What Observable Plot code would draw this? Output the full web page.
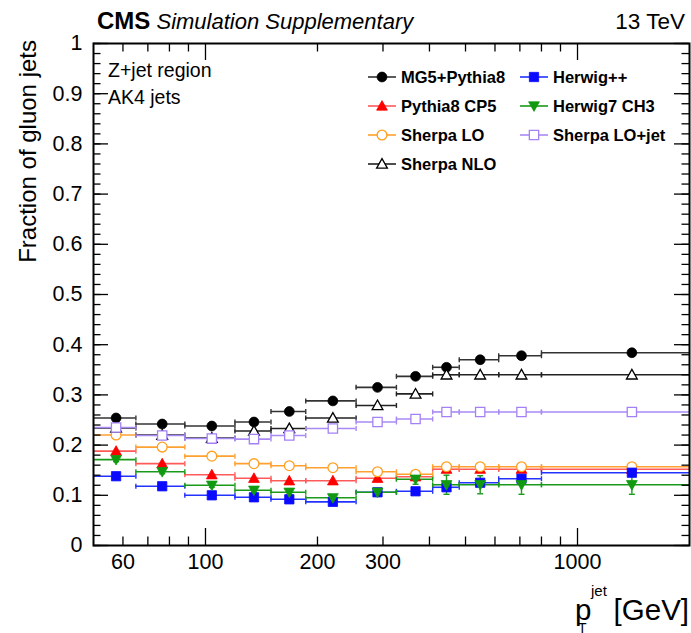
<!DOCTYPE html>
<html>
<head>
<meta charset="utf-8">
<script src="https://cdn.jsdelivr.net/npm/d3@7"></script>
<script src="https://cdn.jsdelivr.net/npm/@observablehq/plot@0.6"></script>
<style>
  body { margin: 0; background: #fff; }
  svg { display: block; }
</style>
</head>
<body>
<div id="chart"></div>
<script>
// Jet pT bin edges [GeV]; markers sit at the bin midpoints
const binEdges = [50, 65, 88, 120, 150, 186, 254, 326, 408, 481, 614, 800, 2000];

// Fraction of gluon jets per pT bin, Z+jet region, AK4 jets
const mg5Pythia8  = [0.254, 0.242, 0.238, 0.246, 0.267, 0.288, 0.315, 0.337, 0.355, 0.370, 0.378, 0.384];
const pythia8CP5  = [0.188, 0.163, 0.141, 0.134, 0.129, 0.129, 0.134, 0.137, 0.152, 0.152, 0.152, 0.152];
const sherpaLO    = [0.220, 0.196, 0.178, 0.163, 0.159, 0.155, 0.147, 0.142, 0.157, 0.157, 0.157, 0.157];
const sherpaNLO   = [0.234, 0.220, 0.214, 0.228, 0.233, 0.254, 0.279, 0.302, 0.340, 0.340, 0.340, 0.340];
const herwigPP    = [0.138, 0.118, 0.100, 0.096, 0.092, 0.087, 0.106, 0.108, 0.116, 0.125, 0.133, 0.145];
const herwig7CH3  = [0.171, 0.147, 0.120, 0.110, 0.106, 0.095, 0.106, 0.132, 0.121, 0.121, 0.121, 0.121];
const sherpaLOjet = [0.235, 0.219, 0.213, 0.212, 0.219, 0.233, 0.246, 0.252, 0.266, 0.266, 0.266, 0.266];

// Statistical uncertainty (only visible beyond the marker for Herwig7)
const herwig7Err  = [0.004, 0.004, 0.004, 0.004, 0.004, 0.005, 0.006, 0.010, 0.019, 0.018, 0.019, 0.019];

// Axis ticks
const xTickLabels = [60, 100, 200, 300, 1000];
const xMajorTicks = [100, 1000];
const xMinorTicks = [60, 70, 80, 90, 200, 300, 400, 500, 600, 700, 800, 900];
const yMajorTicks = d3.range(0, 11).map(i => i / 10);
const yMinorTicks = d3.range(0, 51).map(i => i / 50);

// Marker shapes
const triUp = {draw(ctx, size) {
  const r = Math.sqrt(size / Math.PI);
  ctx.moveTo(0, -1.1 * r); ctx.lineTo(1.1 * r, 0.85 * r); ctx.lineTo(-1.1 * r, 0.85 * r); ctx.closePath();
}};
const triDown = {draw(ctx, size) {
  const r = Math.sqrt(size / Math.PI);
  ctx.moveTo(0, 1.1 * r); ctx.lineTo(1.1 * r, -0.85 * r); ctx.lineTo(-1.1 * r, -0.85 * r); ctx.closePath();
}};
const square = {draw(ctx, size) {
  const r = Math.sqrt(size / Math.PI) * 0.95;
  ctx.rect(-r, -r, 2 * r, 2 * r);
}};
const circle = {draw(ctx, size) {
  const r = Math.sqrt(size / Math.PI);
  ctx.moveTo(r, 0); ctx.arc(0, 0, r, 0, 2 * Math.PI);
}};
const vCap = {draw(ctx) { ctx.moveTo(0, -2.5); ctx.lineTo(0, 2.5); }};
const hCap = {draw(ctx) { ctx.moveTo(-3, 0); ctx.lineTo(3, 0); }};

const series = [
  {name: "MG5+Pythia8",   values: mg5Pythia8,  color: "#000000", line: "#333333", symbol: circle,  open: false},
  {name: "Pythia8 CP5",   values: pythia8CP5,  color: "#ff0000", line: "#ff5a5a", symbol: triUp,   open: false},
  {name: "Sherpa LO",     values: sherpaLO,    color: "#ff9f1c", line: "#ffa030", symbol: circle,  open: true},
  {name: "Sherpa NLO",    values: sherpaNLO,   color: "#000000", line: "#222222", symbol: triUp,   open: true},
  {name: "Herwig++",      values: herwigPP,    color: "#0a0aff", line: "#2233ff", symbol: square,  open: false},
  {name: "Herwig7 CH3",   values: herwig7CH3,  color: "#119a11", line: "#1a9a1a", symbol: triDown, open: false, errors: herwig7Err},
  {name: "Sherpa LO+jet", values: sherpaLOjet, color: "#a380f5", line: "#a98af5", symbol: square,  open: true}
];

const rowsOf = s => s.values.map((v, i) => ({
  v, lo: binEdges[i], hi: binEdges[i + 1],
  x: (binEdges[i] + binEdges[i + 1]) / 2,
  err: s.errors ? s.errors[i] : 0
}));

const W = 691, H = 633;
const mL = 93, mR = 2, mT = 43, mB = 88;
const plotW = W - mL - mR, plotH = H - mT - mB;

const barMarks = series.flatMap(s => {
  const rows = rowsOf(s);
  const edges = rows.flatMap(r => [{x: r.lo, v: r.v}, {x: r.hi, v: r.v}]).filter(e => e.x > 50 && e.x < 2000);
  const errs = rows.filter(r => r.err > 0);
  return [
    Plot.ruleY(rows, {x1: "lo", x2: "hi", y: "v", stroke: s.line, strokeWidth: 1.6}),
    Plot.dot(edges, {x: "x", y: "v", symbol: vCap, stroke: s.line, strokeWidth: 1.4, r: 1}),
    Plot.ruleX(errs, {x: "x", y1: r => r.v - r.err, y2: r => r.v + r.err, stroke: s.line, strokeWidth: 1.4}),
    Plot.dot(errs.flatMap(r => [{x: r.x, v: r.v - r.err}, {x: r.x, v: r.v + r.err}]),
      {x: "x", y: "v", symbol: hCap, stroke: s.line, strokeWidth: 1.4, r: 1})
  ];
});

const markerMarks = series.map(s => Plot.dot(rowsOf(s), {
  x: "x", y: "v", symbol: s.symbol, r: 4.9,
  fill: s.open ? "white" : s.color, stroke: s.color, strokeWidth: s.open ? 1.3 : 0.8
}));

const tickStyle = {stroke: "black", strokeWidth: 1.3};

const chart = Plot.plot({
  width: W, height: H,
  marginLeft: mL, marginRight: mR, marginTop: mT, marginBottom: mB,
  style: {fontFamily: "'Liberation Sans', Arial, Helvetica, sans-serif", background: "white"},
  x: {type: "log", domain: [50, 2000], label: null},
  y: {domain: [0, 1], label: null},
  marks: [
    ...barMarks,
    ...markerMarks,
    // inward ticks on all four sides
    Plot.tickY(yMajorTicks, {y: d => d, insetRight: plotW - 15, ...tickStyle}),
    Plot.tickY(yMinorTicks, {y: d => d, insetRight: plotW - 7.5, ...tickStyle}),
    Plot.tickY(yMajorTicks, {y: d => d, insetLeft: plotW - 15, ...tickStyle}),
    Plot.tickY(yMinorTicks, {y: d => d, insetLeft: plotW - 7.5, ...tickStyle}),
    Plot.tickX(xMajorTicks, {x: d => d, insetTop: plotH - 17, ...tickStyle}),
    Plot.tickX(xMinorTicks, {x: d => d, insetTop: plotH - 8.5, ...tickStyle}),
    Plot.tickX(xMajorTicks, {x: d => d, insetBottom: plotH - 17, ...tickStyle}),
    Plot.tickX(xMinorTicks, {x: d => d, insetBottom: plotH - 8.5, ...tickStyle}),
    Plot.axisX({ticks: xTickLabels, tickSize: 0, tickPadding: 8, tickFormat: d3.format("d"), fontSize: 21.5, label: null}),
    Plot.axisY({ticks: yMajorTicks, tickSize: 0, tickPadding: 11, tickFormat: d3.format("~g"), fontSize: 21.5, label: null}),
    Plot.frame({stroke: "black", strokeWidth: 2})
  ]
});

const svg = d3.select(chart);
const font = "'Liberation Sans', Arial, Helvetica, sans-serif";
const txt = (x, y, s, o = {}) => svg.append("text")
  .attr("x", x).attr("y", y).attr("font-family", font)
  .attr("font-size", o.size || 20).attr("font-weight", o.weight || "normal")
  .attr("font-style", o.style || "normal").attr("text-anchor", o.anchor || "start")
  .attr("fill", "black").text(s);

// Header
const head = svg.append("text").attr("x", 97).attr("y", 29).attr("font-family", font).attr("text-anchor", "start");
head.append("tspan").attr("font-size", 24).attr("font-weight", "bold").text("CMS");
head.append("tspan").attr("font-size", 22).attr("font-style", "italic").text(" Simulation Supplementary");
txt(685, 29, "13 TeV", {size: 22.5, anchor: "end"});

// Axis titles
svg.append("text").attr("transform", "translate(36,40) rotate(-90)")
  .attr("font-family", font).attr("font-size", 24).attr("text-anchor", "end").text("Fraction of gluon jets");
txt(575, 620, "p", {size: 29.5});
txt(578, 633, "T", {size: 14});
txt(591, 596, "jet", {size: 15});
txt(689, 620, "[GeV]", {size: 29.5, anchor: "end"});

// Region labels
txt(108, 77, "Z+jet region", {size: 19.5});
txt(108, 104, "AK4 jets", {size: 19.5});

// Legend
const legendPos = [
  [382, 77], [382, 106], [382, 135], [382, 164],
  [534, 77], [534, 106], [534, 135]
];
const legendOrder = ["MG5+Pythia8", "Pythia8 CP5", "Sherpa LO", "Sherpa NLO", "Herwig++", "Herwig7 CH3", "Sherpa LO+jet"];
legendOrder.forEach((name, i) => {
  const s = series.find(d => d.name === name);
  const [cx, cy] = legendPos[i];
  svg.append("line").attr("x1", cx - 14).attr("x2", cx + 14).attr("y1", cy).attr("y2", cy)
    .attr("stroke", s.line).attr("stroke-width", 1.6);
  svg.append("path").attr("transform", `translate(${cx},${cy})`)
    .attr("d", () => { const p = d3.path(); s.symbol.draw(p, 4.9 * 4.9 * Math.PI); return p.toString(); })
    .attr("fill", s.open ? "white" : s.color).attr("stroke", s.color).attr("stroke-width", s.open ? 1.3 : 0.8);
  txt(cx + 19, cy + 6, name, {size: 16.5, weight: "bold"});
});

document.getElementById("chart").appendChild(chart);
</script>
</body>
</html>
